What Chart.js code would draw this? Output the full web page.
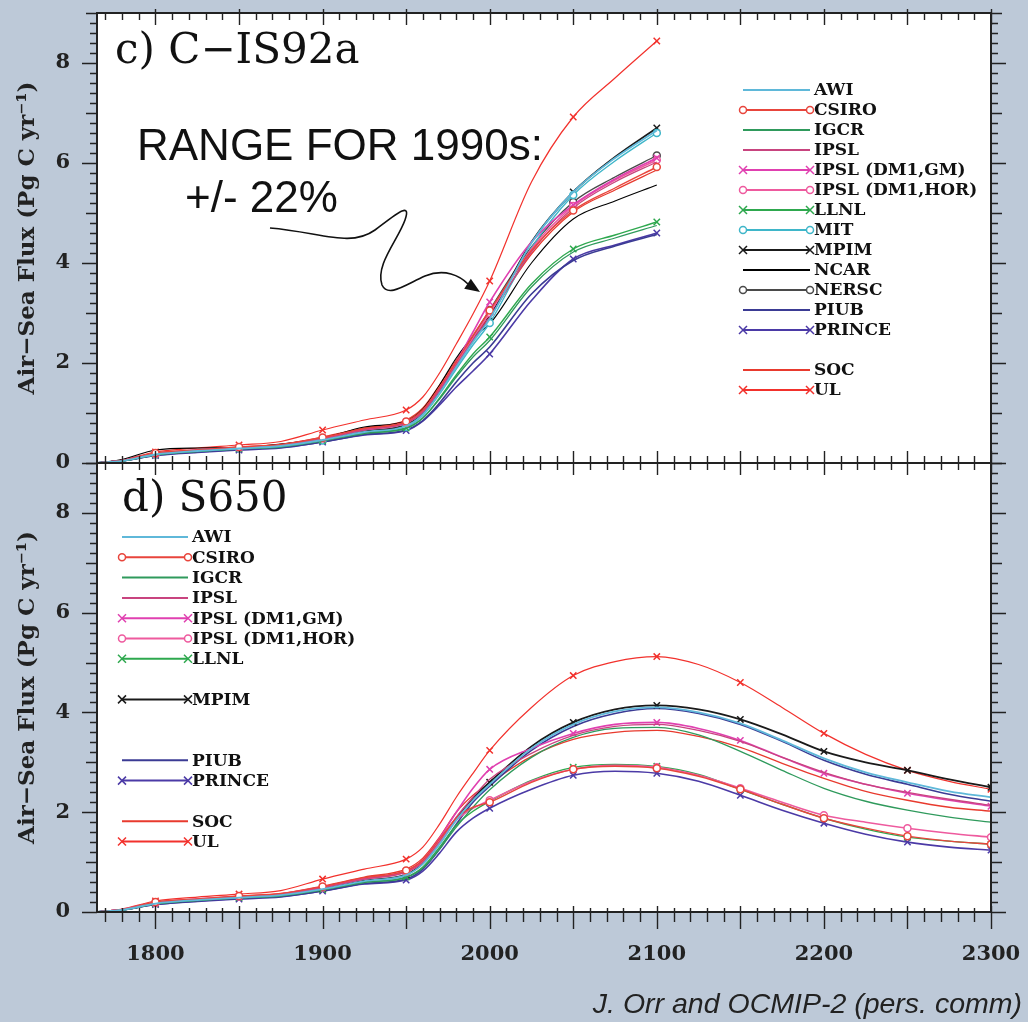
<!DOCTYPE html>
<html>
<head>
<meta charset="utf-8">
<script src="https://cdn.jsdelivr.net/npm/chart.js@4.4.0/dist/chart.umd.min.js"></script>
<style>
  html, body { margin: 0; padding: 0; background: #bdc9d8; }
  body { width: 1028px; height: 1022px; position: relative; overflow: hidden; }
  #chartC { position: absolute; left: 0; top: 0; }
  #chartD { position: absolute; left: 0; top: 440px; }
  .credit { position: absolute; right: 6px; top: 987px; font: italic 28.5px "Liberation Sans", Arial, sans-serif; color: #222; white-space: nowrap; }
</style>
</head>
<body>
<canvas id="chartC" width="1028" height="480"></canvas>
<canvas id="chartD" width="1028" height="582"></canvas>
<div class="credit">J. Orr and OCMIP-2 (pers. comm)</div>
<script>
// ---- data (Pg C / yr) ----
const yearsC = [1765, 1780, 1800, 1825, 1850, 1875, 1900, 1925, 1950, 1960, 1970, 1980, 1990, 2000, 2025, 2050, 2075, 2100];
const yearsD = [1765, 1780, 1800, 1825, 1850, 1875, 1900, 1925, 1950, 1960, 1970, 1980, 1990, 2000, 2025, 2050, 2075, 2100,
                2125, 2150, 2175, 2200, 2225, 2250, 2275, 2300];
const xTickYears = [1800, 1900, 2000, 2100, 2200, 2300];

// c) C-IS92a
const awiC     = [0, 0.04, 0.17, 0.24, 0.29, 0.34, 0.46, 0.62, 0.74, 0.97, 1.40, 1.92, 2.42, 2.88, 4.40, 5.42, 6.10, 6.65];
const csiroC   = [0, 0.05, 0.20, 0.26, 0.32, 0.37, 0.51, 0.69, 0.83, 1.06, 1.52, 2.02, 2.55, 3.05, 4.25, 5.05, 5.50, 5.92];
const igcrC    = [0, 0.04, 0.16, 0.23, 0.28, 0.32, 0.44, 0.59, 0.69, 0.90, 1.28, 1.72, 2.12, 2.45, 3.52, 4.22, 4.50, 4.75];
const ipslC    = [0, 0.05, 0.18, 0.25, 0.30, 0.35, 0.48, 0.66, 0.80, 1.02, 1.46, 1.96, 2.46, 2.92, 4.22, 5.10, 5.62, 6.02];
const ipslGmC  = [0, 0.05, 0.19, 0.26, 0.31, 0.36, 0.50, 0.67, 0.82, 1.04, 1.50, 2.02, 2.62, 3.22, 4.42, 5.16, 5.68, 6.10];
const ipslHorC = [0, 0.05, 0.18, 0.25, 0.31, 0.35, 0.49, 0.66, 0.80, 1.02, 1.46, 1.97, 2.50, 3.00, 4.28, 5.14, 5.66, 6.06];
const llnlC    = [0, 0.04, 0.17, 0.24, 0.29, 0.33, 0.45, 0.60, 0.70, 0.90, 1.30, 1.76, 2.18, 2.52, 3.58, 4.28, 4.56, 4.82];
const mitC     = [0, 0.04, 0.17, 0.24, 0.29, 0.33, 0.45, 0.61, 0.72, 0.95, 1.38, 1.88, 2.36, 2.80, 4.30, 5.36, 6.04, 6.60];
const mpimC    = [0, 0.04, 0.17, 0.24, 0.30, 0.34, 0.46, 0.63, 0.75, 0.99, 1.42, 1.94, 2.45, 2.92, 4.42, 5.42, 6.12, 6.70];
const ncarC    = [0, 0.07, 0.26, 0.30, 0.31, 0.38, 0.50, 0.72, 0.84, 1.08, 1.56, 2.10, 2.52, 2.78, 4.00, 4.88, 5.24, 5.56];
const nerscC   = [0, 0.05, 0.18, 0.25, 0.30, 0.34, 0.47, 0.64, 0.77, 1.00, 1.43, 1.94, 2.52, 3.06, 4.32, 5.22, 5.72, 6.15];
const piubC    = [0, 0.04, 0.15, 0.22, 0.27, 0.31, 0.42, 0.57, 0.66, 0.85, 1.20, 1.62, 2.00, 2.32, 3.38, 4.05, 4.34, 4.57];
const princeC  = [0, 0.04, 0.15, 0.21, 0.26, 0.30, 0.42, 0.56, 0.65, 0.84, 1.16, 1.52, 1.84, 2.18, 3.25, 4.08, 4.36, 4.60];
const socC     = [0, 0.05, 0.19, 0.26, 0.32, 0.37, 0.52, 0.70, 0.86, 1.10, 1.56, 2.06, 2.52, 2.95, 4.18, 5.02, 5.46, 5.86];
const ulC      = [0, 0.06, 0.22, 0.30, 0.36, 0.43, 0.66, 0.86, 1.06, 1.32, 1.80, 2.38, 2.98, 3.64, 5.62, 6.92, 7.70, 8.44];

// d) S650
const awiD     = [0, 0.04, 0.17, 0.24, 0.29, 0.34, 0.46, 0.62, 0.74, 0.96, 1.36, 1.84, 2.24, 2.56, 3.28, 3.76, 4.02, 4.10, 4.00, 3.78, 3.44, 3.08, 2.80, 2.60, 2.42, 2.30];
const csiroD   = [0, 0.05, 0.20, 0.26, 0.32, 0.37, 0.51, 0.69, 0.83, 1.04, 1.46, 1.88, 2.10, 2.20, 2.60, 2.86, 2.92, 2.88, 2.72, 2.46, 2.16, 1.88, 1.68, 1.52, 1.42, 1.36];
const igcrD    = [0, 0.04, 0.16, 0.23, 0.28, 0.32, 0.44, 0.59, 0.69, 0.88, 1.26, 1.70, 2.10, 2.45, 3.10, 3.50, 3.68, 3.70, 3.55, 3.22, 2.84, 2.48, 2.22, 2.04, 1.90, 1.80];
const ipslD    = [0, 0.05, 0.18, 0.25, 0.30, 0.35, 0.48, 0.66, 0.80, 1.00, 1.42, 1.90, 2.30, 2.66, 3.18, 3.54, 3.72, 3.76, 3.64, 3.42, 3.10, 2.80, 2.56, 2.40, 2.26, 2.14];
const ipslGmD  = [0, 0.05, 0.19, 0.26, 0.31, 0.36, 0.50, 0.67, 0.82, 1.04, 1.48, 2.00, 2.48, 2.86, 3.28, 3.58, 3.76, 3.80, 3.68, 3.44, 3.10, 2.78, 2.56, 2.38, 2.24, 2.12];
const ipslHorD = [0, 0.05, 0.18, 0.25, 0.31, 0.35, 0.49, 0.66, 0.80, 1.00, 1.40, 1.84, 2.08, 2.24, 2.62, 2.86, 2.94, 2.90, 2.74, 2.48, 2.20, 1.94, 1.80, 1.68, 1.58, 1.50];
const llnlD    = [0, 0.04, 0.17, 0.24, 0.29, 0.33, 0.45, 0.60, 0.70, 0.90, 1.30, 1.74, 2.02, 2.22, 2.64, 2.90, 2.96, 2.92, 2.76, 2.46, 2.16, 1.88, 1.66, 1.50, 1.42, 1.36];
const mpimD    = [0, 0.04, 0.17, 0.24, 0.30, 0.34, 0.46, 0.63, 0.75, 0.98, 1.38, 1.88, 2.28, 2.60, 3.32, 3.80, 4.06, 4.14, 4.06, 3.86, 3.56, 3.22, 3.00, 2.84, 2.66, 2.50];
const piubD    = [0, 0.04, 0.15, 0.22, 0.27, 0.31, 0.42, 0.57, 0.66, 0.86, 1.26, 1.76, 2.20, 2.52, 3.24, 3.72, 3.98, 4.08, 3.98, 3.76, 3.42, 3.04, 2.76, 2.56, 2.36, 2.22];
const princeD  = [0, 0.04, 0.15, 0.21, 0.26, 0.30, 0.42, 0.56, 0.64, 0.82, 1.18, 1.60, 1.88, 2.08, 2.46, 2.74, 2.82, 2.78, 2.62, 2.34, 2.04, 1.78, 1.56, 1.40, 1.30, 1.24];
const socD     = [0, 0.05, 0.19, 0.26, 0.32, 0.37, 0.52, 0.70, 0.86, 1.08, 1.50, 2.00, 2.34, 2.58, 3.12, 3.46, 3.60, 3.64, 3.52, 3.30, 2.98, 2.68, 2.42, 2.24, 2.10, 2.02];
const ulD      = [0, 0.06, 0.22, 0.30, 0.36, 0.43, 0.66, 0.86, 1.06, 1.30, 1.76, 2.30, 2.78, 3.24, 4.10, 4.74, 5.02, 5.12, 4.96, 4.60, 4.10, 3.58, 3.16, 2.84, 2.62, 2.46];

const seriesC = [
  ['AWI', awiC], ['CSIRO', csiroC], ['IGCR', igcrC], ['IPSL', ipslC], ['IPSL (DM1,GM)', ipslGmC],
  ['IPSL (DM1,HOR)', ipslHorC], ['LLNL', llnlC], ['MIT', mitC], ['MPIM', mpimC], ['NCAR', ncarC],
  ['NERSC', nerscC], ['PIUB', piubC], ['PRINCE', princeC], ['SOC', socC], ['UL', ulC]
];
const seriesD = [
  ['AWI', awiD], ['CSIRO', csiroD], ['IGCR', igcrD], ['IPSL', ipslD], ['IPSL (DM1,GM)', ipslGmD],
  ['IPSL (DM1,HOR)', ipslHorD], ['LLNL', llnlD], ['MPIM', mpimD], ['PIUB', piubD], ['PRINCE', princeD],
  ['SOC', socD], ['UL', ulD]
];

// legend rows (null = empty row)
const legendRowsC = ['AWI', 'CSIRO', 'IGCR', 'IPSL', 'IPSL (DM1,GM)', 'IPSL (DM1,HOR)', 'LLNL', 'MIT', 'MPIM',
                     'NCAR', 'NERSC', 'PIUB', 'PRINCE', null, 'SOC', 'UL'];
const legendRowsD = ['AWI', 'CSIRO', 'IGCR', 'IPSL', 'IPSL (DM1,GM)', 'IPSL (DM1,HOR)', 'LLNL', null, 'MPIM',
                     null, null, 'PIUB', 'PRINCE', null, 'SOC', 'UL'];

// line styles per model
const modelStyle = {
  'AWI':            { color: '#5fb8d9', marker: null,      width: 1.8 },
  'CSIRO':          { color: '#e8453c', marker: 'circle',  width: 1.4 },
  'IGCR':           { color: '#2f9a5c', marker: null,      width: 1.3 },
  'IPSL':           { color: '#c8447f', marker: null,      width: 1.3 },
  'IPSL (DM1,GM)':  { color: '#e040b0', marker: 'cross',   width: 1.6 },
  'IPSL (DM1,HOR)': { color: '#ee5a9e', marker: 'circle',  width: 1.6 },
  'LLNL':           { color: '#2ea84e', marker: 'cross',   width: 1.4 },
  'MIT':            { color: '#3fb6c9', marker: 'circle',  width: 1.4 },
  'MPIM':           { color: '#1a1a1a', marker: 'cross',   width: 1.8 },
  'NCAR':           { color: '#000000', marker: null,      width: 1.1 },
  'NERSC':          { color: '#4a4a4a', marker: 'circle',  width: 1.4 },
  'PIUB':           { color: '#3b3b94', marker: null,      width: 1.6 },
  'PRINCE':         { color: '#4b3aa6', marker: 'cross',   width: 1.6 },
  'SOC':            { color: '#e83a2e', marker: null,      width: 1.3 },
  'UL':             { color: '#f2312c', marker: 'cross',   width: 1.2 }
};

const serifFont = '"DejaVu Serif", "Liberation Serif", serif';

function buildDatasets(years, series) {
  return series.map(([name, values]) => {
    const st = modelStyle[name];
    const r = st.marker === 'circle' ? 3.5 : 4.5;
    return {
      label: name,
      data: years.map((yr, i) => ({ x: yr, y: values[i] })),
      borderColor: st.color,
      backgroundColor: st.color,
      borderWidth: st.width,
      cubicInterpolationMode: 'monotone',
      pointStyle: st.marker === 'circle' ? 'circle' : 'crossRot',
      pointRadius: years.map(yr => (st.marker && yr % 50 === 0 ? r : 0)),
      pointBorderWidth: 1.5,
      pointBackgroundColor: '#ffffff',
      pointBorderColor: st.color
    };
  });
}

// white plot area, box frame and the ruler-like tick marks
function framePlugin(xEdges) {
  return {
    id: 'frameTicks',
    beforeDraw(chart) {
      const { ctx, chartArea: a } = chart;
      ctx.save();
      ctx.fillStyle = '#ffffff';
      ctx.fillRect(a.left, a.top, a.right - a.left, a.bottom - a.top);
      ctx.restore();
    },
    afterDraw(chart) {
      const { ctx, chartArea: a, scales } = chart;
      const x = scales.x, y = scales.y;
      ctx.save();
      ctx.strokeStyle = '#222';
      ctx.lineWidth = 1.4;
      ctx.beginPath();
      for (let yr = 1770; yr <= 2300; yr += 10) {
        const px = Math.round(x.getPixelForValue(yr)) + 0.5;
        const k = yr % 50 === 0 ? 1 : 0;
        ['top', 'bottom'].forEach(edge => {
          const t = xEdges[edge];
          const py = edge === 'top' ? a.top : a.bottom;
          const outDir = edge === 'top' ? -1 : 1;
          ctx.moveTo(px, py + outDir * t.out[k]);
          ctx.lineTo(px, py - outDir * t.inn[k]);
        });
      }
      for (let i = 0; i <= 45; i++) {
        const py = Math.round(y.getPixelForValue(i / 5)) + 0.5;
        const len = i % 10 === 0 ? 15 : (i % 5 === 0 ? 11 : 7);
        ctx.moveTo(a.left - len, py); ctx.lineTo(a.left, py);
        ctx.moveTo(a.right, py); ctx.lineTo(a.right + len, py);
      }
      ctx.stroke();
      ctx.lineWidth = 2;
      ctx.strokeRect(a.left, a.top, a.right - a.left, a.bottom - a.top);
      ctx.restore();
    }
  };
}

function drawMarker(ctx, kind, px, py) {
  ctx.beginPath();
  if (kind === 'circle') {
    ctx.arc(px, py, 3.5, 0, Math.PI * 2);
    ctx.fillStyle = '#fff';
    ctx.fill();
  } else {
    ctx.moveTo(px - 4, py - 4); ctx.lineTo(px + 4, py + 4);
    ctx.moveTo(px - 4, py + 4); ctx.lineTo(px + 4, py - 4);
  }
  ctx.stroke();
}

// legend drawn row by row with markers at both line ends
function legendPlugin(rows, x1, x2, yTop, step) {
  return {
    id: 'rowLegend',
    afterDraw(chart) {
      const ctx = chart.ctx;
      ctx.save();
      ctx.font = 'bold 17px ' + serifFont;
      ctx.textBaseline = 'middle';
      ctx.textAlign = 'left';
      rows.forEach((name, i) => {
        if (!name) return;
        const st = modelStyle[name];
        const yy = yTop + i * step;
        ctx.strokeStyle = st.color;
        ctx.lineWidth = 2;
        ctx.beginPath();
        ctx.moveTo(x1, yy); ctx.lineTo(x2, yy);
        ctx.stroke();
        if (st.marker) {
          ctx.lineWidth = 1.5;
          drawMarker(ctx, st.marker, x1, yy);
          drawMarker(ctx, st.marker, x2, yy);
        }
        ctx.fillStyle = '#111';
        ctx.fillText(name, x2 + 4, yy + 1);
      });
      ctx.restore();
    }
  };
}

function titlePlugin(text, tx, ty) {
  return {
    id: 'panelTitle',
    afterDraw(chart) {
      const ctx = chart.ctx;
      ctx.save();
      ctx.font = '42px ' + serifFont;
      ctx.fillStyle = '#111';
      ctx.textBaseline = 'alphabetic';
      ctx.fillText(text, tx, ty);
      ctx.restore();
    }
  };
}

// "RANGE FOR 1990s" note with the wiggly arrow (panel c only)
const rangeNote = {
  id: 'rangeNote',
  afterDraw(chart) {
    const ctx = chart.ctx;
    ctx.save();
    ctx.fillStyle = '#111';
    ctx.font = '44px "Liberation Sans", Arial, sans-serif';
    ctx.fillText('RANGE FOR 1990s:', 137, 160);
    ctx.fillText('+/- 22%', 185, 212);
    ctx.strokeStyle = '#111';
    ctx.lineWidth = 1.6;
    ctx.beginPath();
    ctx.moveTo(270, 228);
    ctx.bezierCurveTo(320, 232, 350, 248, 375, 230);
    ctx.bezierCurveTo(395, 215, 412, 200, 405, 220);
    ctx.bezierCurveTo(398, 240, 375, 265, 382, 285);
    ctx.bezierCurveTo(388, 298, 405, 285, 425, 276);
    ctx.bezierCurveTo(445, 268, 460, 276, 468, 284);
    ctx.stroke();
    const tipX = 480, tipY = 292, ang = Math.atan2(8, 12);
    ctx.beginPath();
    ctx.moveTo(tipX, tipY);
    ctx.lineTo(tipX - 15 * Math.cos(ang) + 6 * Math.sin(ang), tipY - 15 * Math.sin(ang) - 6 * Math.cos(ang));
    ctx.lineTo(tipX - 15 * Math.cos(ang) - 6 * Math.sin(ang), tipY - 15 * Math.sin(ang) + 6 * Math.cos(ang));
    ctx.closePath();
    ctx.fill();
    ctx.restore();
  }
};

// keep Chart.js from reserving room for label overhang, the plot box is set by layout.padding
function noOverhang(s) {
  s.paddingTop = 0; s.paddingBottom = 0; s.paddingLeft = 0; s.paddingRight = 0;
}

function panelOptions(showXLabels, padding) {
  return {
    responsive: false,
    animation: false,
    events: [],
    layout: { padding: padding, autoPadding: false },
    plugins: { legend: { display: false }, tooltip: { enabled: false } },
    scales: {
      x: {
        type: 'linear',
        min: 1765,
        max: 2300,
        display: showXLabels,
        grid: { display: false, drawTicks: false },
        border: { display: false },
        afterBuildTicks: s => { s.ticks = xTickYears.map(v => ({ value: v })); },
        afterFit: s => { if (showXLabels) s.height = 110; noOverhang(s); },
        ticks: {
          padding: 30,
          maxRotation: 0,
          color: '#222',
          font: { family: serifFont, size: 21, weight: 'bold' },
          callback: v => String(v)
        }
      },
      y: {
        type: 'linear',
        min: 0,
        max: 9,
        grid: { display: false, drawTicks: false },
        border: { display: false },
        afterBuildTicks: s => { s.ticks = s.ticks.filter(t => t.value % 2 === 0); },
        afterFit: s => { s.width = 97; noOverhang(s); },
        ticks: {
          stepSize: 2,
          padding: 27,
          color: '#222',
          font: { family: serifFont, size: 21, weight: 'bold' },
          callback: v => String(v)
        },
        title: {
          display: true,
          text: 'Air\u2212Sea Flux (Pg C yr\u207B\u00B9)',
          color: '#222',
          padding: { top: 14, bottom: 0 },
          font: { family: serifFont, size: 23, weight: 'bold' }
        }
      }
    },
    elements: { line: { fill: false } }
  };
}

new Chart(document.getElementById('chartC'), {
  type: 'line',
  data: { datasets: buildDatasets(yearsC, seriesC) },
  options: panelOptions(false, { top: 13, right: 37, bottom: 17, left: 0 }),
  plugins: [
    framePlugin({ top: { out: [0, 4], inn: [7, 12] }, bottom: { out: [0, 0], inn: [7, 12] } }),
    legendPlugin(legendRowsC, 743, 810, 90, 20),
    titlePlugin('c) C\u2212IS92a', 115, 63),
    rangeNote
  ]
});

new Chart(document.getElementById('chartD'), {
  type: 'line',
  data: { datasets: buildDatasets(yearsD, seriesD) },
  options: panelOptions(true, { top: 23, right: 37, bottom: 0, left: 0 }),
  plugins: [
    framePlugin({ top: { out: [0, 0], inn: [7, 12] }, bottom: { out: [10, 17], inn: [4, 6] } }),
    legendPlugin(legendRowsD, 122, 188, 97, 20.3),
    titlePlugin('d) S650', 122, 71)
  ]
});
</script>
</body>
</html>
